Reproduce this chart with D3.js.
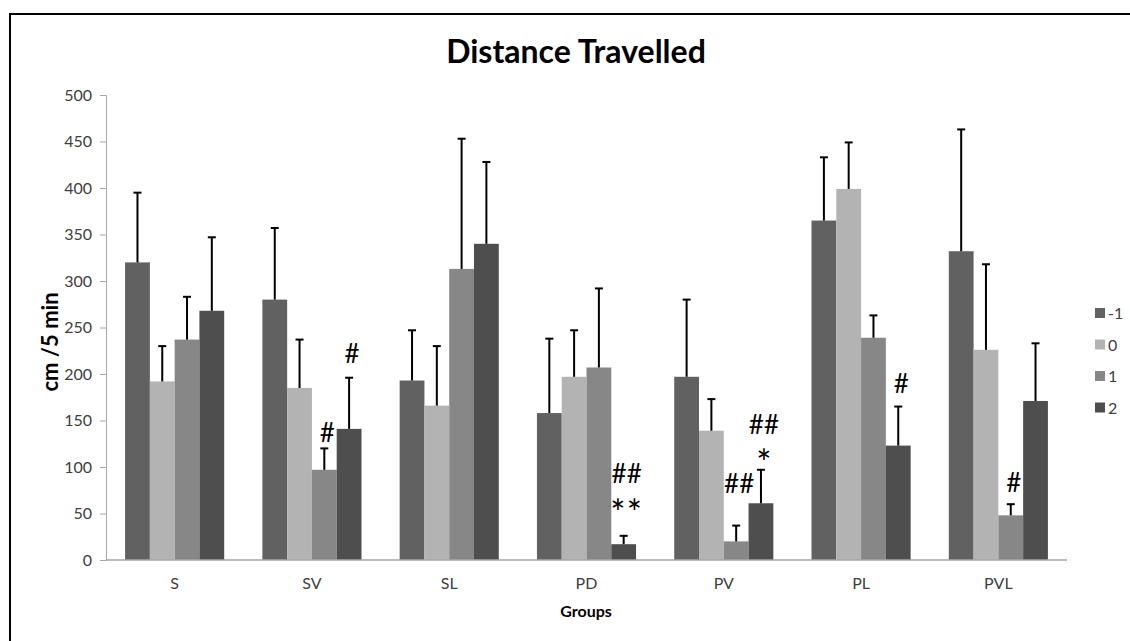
<!DOCTYPE html>
<html>
<head>
<meta charset="utf-8">
<script src="https://cdn.jsdelivr.net/npm/d3@7"></script>
<style>
  body { margin: 0; background: #fff; }
  svg { display: block; font-family: Lato, "Open Sans", sans-serif; }
</style>
</head>
<body>
<svg id="chart" width="1130" height="641"></svg>
<script>
'use strict';

// data
const groups = ["S", "SV", "SL", "PD", "PV", "PL", "PVL"];
const seriesNames = ["-1", "0", "1", "2"];
const seriesColors = ["#616161", "#b3b3b3", "#878787", "#4e4e4e"];

// means, one array per series (order follows groups)
const means = [
  [320, 280, 193, 158, 197, 365, 332],
  [192, 185, 166, 197, 139, 399, 226],
  [237, 97, 313, 207, 20, 239, 48],
  [268, 141, 340, 17, 61, 123, 171]
];
// upper end of the error bar
const errTops = [
  [395, 357, 247, 238, 280, 433, 463],
  [230, 237, 230, 247, 173, 449, 318],
  [283, 120, 453, 292, 37, 263, 60],
  [347, 196, 428, 26, 97, 165, 233]
];

const yTicks = [0, 50, 100, 150, 200, 250, 300, 350, 400, 450, 500];

// significance marks: group, series, label, baseline level (in cm/5 min)
const marks = [
  { g: "SV", s: "1", label: "#", at: 127 },
  { g: "SV", s: "2", label: "#", at: 212 },
  { g: "PD", s: "2", label: "##", at: 83 },
  { g: "PD", s: "2", label: "**", at: 37 },
  { g: "PV", s: "1", label: "##", at: 72 },
  { g: "PV", s: "2", label: "##", at: 136 },
  { g: "PV", s: "2", label: "*", at: 90 },
  { g: "PL", s: "2", label: "#", at: 180 },
  { g: "PVL", s: "1", label: "#", at: 73 }
];

const svg = d3.select("#chart");

// frame around the whole figure
svg.append("rect")
  .attr("x", 10).attr("y", 14)
  .attr("width", 1200).attr("height", 700)
  .attr("fill", "none")
  .attr("stroke", "#000")
  .attr("stroke-width", 2);

const plot = { left: 106, right: 1067, top: 95, bottom: 560 };

const x = d3.scaleBand().domain(groups).range([plot.left, plot.right]).padding(0);
const xs = d3.scaleBand().domain(seriesNames).range([0, x.bandwidth()])
  .paddingInner(0).paddingOuter(0.77);
const y = d3.scaleLinear().domain([0, 500]).range([plot.bottom, plot.top]);

// y axis
const yAxis = svg.append("g")
  .attr("transform", `translate(${plot.left},0)`)
  .call(d3.axisLeft(y).tickValues(yTicks).tickSize(6).tickPadding(8));
yAxis.select(".domain").attr("stroke", "#a6a6a6");
yAxis.selectAll(".tick line").attr("stroke", "#a6a6a6");
yAxis.selectAll(".tick text")
  .attr("fill", "#404040")
  .style("font-size", "16px")
  .style("font-family", "Lato, sans-serif");

// bars
const rows = [];
groups.forEach((g, gi) => {
  seriesNames.forEach((s, si) => {
    rows.push({ g, s, si, v: means[si][gi], e: errTops[si][gi] });
  });
});

svg.append("g")
  .selectAll("rect")
  .data(rows)
  .join("rect")
    .attr("x", d => x(d.g) + xs(d.s))
    .attr("y", d => y(d.v))
    .attr("width", xs.bandwidth())
    .attr("height", d => y(0) - y(d.v))
    .attr("fill", d => seriesColors[d.si]);

// error bars (upper only)
const eb = svg.append("g").attr("stroke", "#000").attr("stroke-width", 2);
const cx = d => x(d.g) + xs(d.s) + xs.bandwidth() / 2;
eb.selectAll("line.v")
  .data(rows)
  .join("line")
    .attr("class", "v")
    .attr("x1", cx).attr("x2", cx)
    .attr("y1", d => y(d.v)).attr("y2", d => y(d.e));
eb.selectAll("line.cap")
  .data(rows)
  .join("line")
    .attr("class", "cap")
    .attr("x1", d => cx(d) - 4).attr("x2", d => cx(d) + 4)
    .attr("y1", d => y(d.e)).attr("y2", d => y(d.e));

// x axis line
svg.append("line")
  .attr("x1", plot.left).attr("x2", plot.right)
  .attr("y1", y(0)).attr("y2", y(0))
  .attr("stroke", "#a6a6a6")
  .attr("stroke-width", 1.5);

svg.append("g")
  .selectAll("text")
  .data(groups)
  .join("text")
    .attr("x", d => x(d) + x.bandwidth() / 2)
    .attr("y", 589)
    .attr("text-anchor", "middle")
    .attr("fill", "#404040")
    .style("font-size", "16px")
    .text(d => d);

// significance marks
svg.append("g")
  .selectAll("text")
  .data(marks)
  .join("text")
    .attr("x", d => x(d.g) + xs(d.s) + xs.bandwidth() / 2 + 3)
    .attr("y", d => y(d.at))
    .attr("text-anchor", "middle")
    .attr("fill", "#000")
    .style("font-size", d => d.label.startsWith("*") ? "36px" : "26px")
    .style("letter-spacing", d => d.label === "**" ? "1px" : "0px")
    .text(d => d.label);

// titles
svg.append("text")
  .attr("x", 576).attr("y", 63)
  .attr("text-anchor", "middle")
  .style("font-size", "32px")
  .style("font-weight", "bold")
  .text("Distance Travelled");

svg.append("text")
  .attr("transform", "translate(58,342) rotate(-90)")
  .attr("text-anchor", "middle")
  .style("font-size", "22px")
  .style("font-weight", "bold")
  .text("cm /5 min");

svg.append("text")
  .attr("x", 586).attr("y", 617)
  .attr("text-anchor", "middle")
  .style("font-size", "16px")
  .style("font-weight", "bold")
  .text("Groups");

// legend
const legend = svg.append("g")
  .selectAll("g")
  .data(seriesNames)
  .join("g")
    .attr("transform", (d, i) => `translate(1095,${313 + i * 31.5})`);
legend.append("rect")
  .attr("x", 0).attr("y", -5)
  .attr("width", 10).attr("height", 10)
  .attr("fill", (d, i) => seriesColors[i]);
legend.append("text")
  .attr("x", 13).attr("y", 6)
  .attr("fill", "#404040")
  .style("font-size", "16px")
  .text(d => d);
</script>
</body>
</html>
